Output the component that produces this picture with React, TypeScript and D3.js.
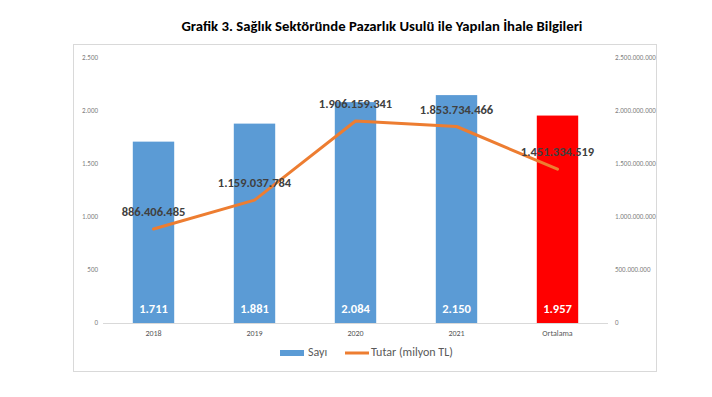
import * as d3 from 'd3';

const categories = ['2018', '2019', '2020', '2021', 'Ortalama'];
const sayi = [1711, 1881, 2084, 2150, 1957];
const tutar = [886406485, 1159037784, 1906159341, 1853734466, 1451334519];
const leftTicks = [0, 500, 1000, 1500, 2000, 2500];
const rightTicks = [0, 500000000, 1000000000, 1500000000, 2000000000, 2500000000];

const title = 'Grafik 3. Sağlık Sektöründe Pazarlık Usulü ile Yapılan İhale Bilgileri';

const tr = d3.formatLocale({ decimal: ',', thousands: '.', grouping: [3], currency: ['', ''] });
const fmt = tr.format(',d');

const BLUE = '#5B9BD5';
const ORANGE = '#ED7D31';
const FONT = 'Carlito, "Liberation Sans", Arial, sans-serif';

export default function App() {
  const width = 712;
  const height = 397;
  const plot = { left: 103, right: 608, top: 58, bottom: 323 };

  const x = d3
    .scaleBand()
    .domain(categories)
    .range([plot.left, plot.right])
    .paddingInner(0.59)
    .paddingOuter(0.295);
  const yL = d3.scaleLinear().domain([0, 2500]).range([plot.bottom, plot.top]);
  const yR = d3.scaleLinear().domain([0, 2500000000]).range([plot.bottom, plot.top]);

  const cx = (c: string) => (x(c) || 0) + x.bandwidth() / 2;

  const line = d3
    .line<number>()
    .x((_, i) => cx(categories[i]))
    .y((d) => yR(d));

  return (
    <svg
      width={width}
      height={height}
      style={{ position: 'absolute', left: 0, top: 0, background: '#fff' }}
      fontFamily={FONT}
    >
      <text
        x={382}
        y={28}
        textAnchor="middle"
        dominantBaseline="middle"
        fontSize={13}
        fontWeight="bold"
        fill="#000"
        textLength={401}
        lengthAdjust="spacingAndGlyphs"
      >
        {title}
      </text>

      <rect x={73.5} y={44.5} width={583} height={327} fill="none" stroke="#d9d9d9" />

      {/* left axis */}
      {leftTicks.map((t) => (
        <text key={'l' + t} x={98} y={yL(t)} textAnchor="end" dominantBaseline="middle" fontSize={7} fill="#7f7f7f">
          {fmt(t)}
        </text>
      ))}
      {/* right axis */}
      {rightTicks.map((t) => (
        <text key={'r' + t} x={615} y={yR(t)} textAnchor="start" dominantBaseline="middle" fontSize={7} fill="#7f7f7f">
          {fmt(t)}
        </text>
      ))}

      {/* bars */}
      {categories.map((c, i) => (
        <rect
          key={c}
          x={x(c)}
          y={yL(sayi[i])}
          width={x.bandwidth()}
          height={plot.bottom - yL(sayi[i])}
          fill={c === 'Ortalama' ? '#FF0000' : BLUE}
        />
      ))}

      <line x1={plot.left} x2={plot.right} y1={plot.bottom + 0.5} y2={plot.bottom + 0.5} stroke="#d9d9d9" />

      {/* category labels */}
      {categories.map((c) => (
        <text key={'c' + c} x={cx(c)} y={334} textAnchor="middle" dominantBaseline="middle" fontSize={8} fill="#595959">
          {c}
        </text>
      ))}

      {/* bar value labels */}
      {categories.map((c, i) => (
        <text
          key={'v' + c}
          x={cx(c)}
          y={310}
          textAnchor="middle"
          dominantBaseline="middle"
          fontSize={12.5}
          fontWeight="bold"
          fill="#fff"
        >
          {fmt(sayi[i])}
        </text>
      ))}

      {/* line */}
      <path d={line(tutar) || ''} fill="none" stroke={ORANGE} strokeWidth={3} strokeLinejoin="round" strokeLinecap="round" />

      {/* line labels */}
      {categories.map((c, i) => (
        <text
          key={'t' + c}
          x={cx(c)}
          y={yR(tutar[i]) - 16}
          textAnchor="middle"
          dominantBaseline="middle"
          fontSize={12.5}
          fontWeight="bold"
          fill="#404040"
        >
          {fmt(tutar[i])}
        </text>
      ))}

      {/* legend */}
      <rect x={280} y={350} width={24} height={6} fill={BLUE} />
      <text x={308} y={353.5} dominantBaseline="middle" fontSize={12} fill="#595959">
        Sayı
      </text>
      <line x1={345} x2={369} y1={353} y2={353} stroke={ORANGE} strokeWidth={3} />
      <text x={371} y={353.5} dominantBaseline="middle" fontSize={12} fill="#595959">
        Tutar (milyon TL)
      </text>
    </svg>
  );
}
